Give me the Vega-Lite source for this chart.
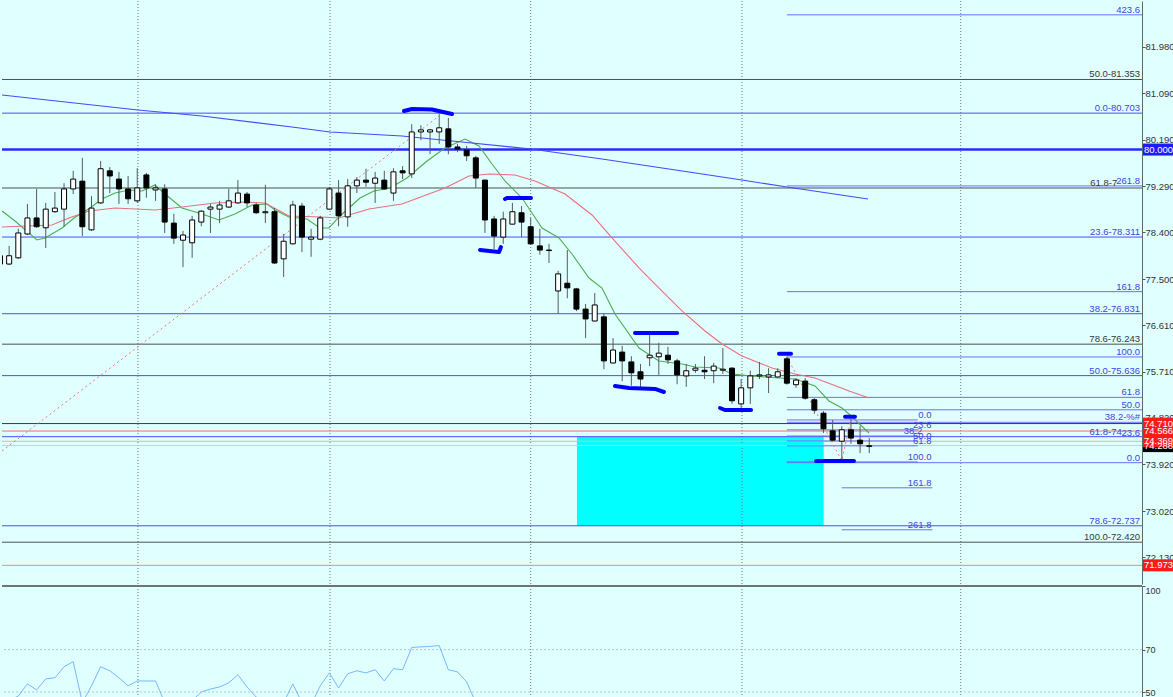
{
"$schema": "https://vega.github.io/schema/vega-lite/v6.json",
"padding": 0,
"background": "#e0ffff",
"spacing": 2,
"bounds": "flush",
"config": {"view": {"stroke": null}, "scale": {"continuousPadding": 0}, "axis": {"labelFont": "Liberation Sans", "labelColor": "#333333", "domainColor": "#606868", "tickColor": "#505858", "grid": false}},
"datasets": {
"candles": [
{"i":0,"o":77.95,"h":78.00,"l":77.77,"c":77.79},{"i":1,"o":77.79,"h":78.14,"l":77.77,"c":77.95},{"i":2,"o":77.91,"h":78.47,"l":77.89,"c":78.39},{"i":3,"o":78.37,"h":78.95,"l":78.35,"c":78.68},{"i":4,"o":78.68,"h":79.24,"l":78.49,"c":78.51},{"i":5,"o":78.49,"h":78.97,"l":78.10,"c":78.85},{"i":6,"o":78.80,"h":79.18,"l":78.78,"c":78.87},{"i":7,"o":78.85,"h":79.35,"l":78.51,"c":79.24},{"i":8,"o":79.24,"h":79.59,"l":79.14,"c":79.43},{"i":9,"o":79.39,"h":79.84,"l":78.33,"c":78.51},
{"i":10,"o":78.45,"h":79.10,"l":78.43,"c":78.87},{"i":11,"o":78.97,"h":79.78,"l":78.95,"c":79.63},{"i":12,"o":79.59,"h":79.66,"l":79.16,"c":79.49},{"i":13,"o":79.43,"h":79.57,"l":78.95,"c":79.24},{"i":14,"o":79.24,"h":79.49,"l":78.95,"c":79.05},{"i":15,"o":79.01,"h":79.64,"l":78.97,"c":79.26},{"i":16,"o":79.51,"h":79.55,"l":79.07,"c":79.26},{"i":17,"o":79.22,"h":79.33,"l":79.01,"c":79.26},{"i":18,"o":79.24,"h":79.33,"l":78.39,"c":78.60},{"i":19,"o":78.58,"h":78.76,"l":78.18,"c":78.29},
{"i":20,"o":78.25,"h":78.43,"l":77.73,"c":78.35},{"i":21,"o":78.20,"h":78.72,"l":77.91,"c":78.64},{"i":22,"o":78.60,"h":78.83,"l":78.52,"c":78.81},{"i":23,"o":78.85,"h":78.95,"l":78.39,"c":78.89},{"i":24,"o":78.85,"h":79.01,"l":78.58,"c":78.93},{"i":25,"o":78.89,"h":79.24,"l":78.87,"c":79.01},{"i":26,"o":78.97,"h":79.41,"l":78.95,"c":79.16},{"i":27,"o":79.14,"h":79.18,"l":78.89,"c":78.97},{"i":28,"o":78.93,"h":78.97,"l":78.76,"c":78.78},{"i":29,"o":78.78,"h":79.32,"l":78.58,"c":78.80},
{"i":30,"o":78.80,"h":78.87,"l":77.79,"c":77.81},{"i":31,"o":77.89,"h":78.37,"l":77.54,"c":78.23},{"i":32,"o":78.18,"h":79.01,"l":78.17,"c":78.93},{"i":33,"o":78.91,"h":78.97,"l":78.02,"c":78.31},{"i":34,"o":78.27,"h":78.47,"l":77.93,"c":78.31},{"i":35,"o":78.27,"h":78.72,"l":78.25,"c":78.68},{"i":36,"o":78.85,"h":79.28,"l":78.84,"c":79.24},{"i":37,"o":79.16,"h":79.41,"l":78.52,"c":78.72},{"i":38,"o":78.70,"h":79.43,"l":78.51,"c":79.30},{"i":39,"o":79.30,"h":79.47,"l":79.16,"c":79.41},
{"i":40,"o":79.41,"h":79.63,"l":79.28,"c":79.37},{"i":41,"o":79.35,"h":79.57,"l":78.97,"c":79.45},{"i":42,"o":79.41,"h":79.59,"l":79.22,"c":79.24},{"i":43,"o":79.16,"h":79.64,"l":79.01,"c":79.57},{"i":44,"o":79.59,"h":79.68,"l":79.43,"c":79.55},{"i":45,"o":79.53,"h":80.49,"l":79.45,"c":80.34},{"i":46,"o":80.34,"h":80.47,"l":80.18,"c":80.38},{"i":47,"o":80.34,"h":80.40,"l":79.91,"c":80.38},{"i":48,"o":80.34,"h":80.69,"l":80.11,"c":80.42},{"i":49,"o":80.40,"h":80.61,"l":79.91,"c":80.05},
{"i":50,"o":80.05,"h":80.11,"l":79.95,"c":80.01},{"i":51,"o":79.99,"h":80.07,"l":79.78,"c":79.88},{"i":52,"o":79.84,"h":79.88,"l":79.26,"c":79.45},{"i":53,"o":79.41,"h":79.42,"l":78.39,"c":78.64},{"i":54,"o":78.66,"h":78.72,"l":78.08,"c":78.33},{"i":55,"o":78.31,"h":78.80,"l":78.18,"c":78.66},{"i":56,"o":78.56,"h":78.97,"l":78.55,"c":78.80},{"i":57,"o":78.78,"h":78.91,"l":78.31,"c":78.60},{"i":58,"o":78.51,"h":78.68,"l":78.16,"c":78.18},{"i":59,"o":78.14,"h":78.47,"l":77.97,"c":78.06},
{"i":60,"o":78.06,"h":78.18,"l":77.81,"c":78.05},{"i":61,"o":77.27,"h":77.66,"l":76.83,"c":77.60},{"i":62,"o":77.42,"h":78.06,"l":77.13,"c":77.33},{"i":63,"o":77.31,"h":77.33,"l":76.88,"c":76.92},{"i":64,"o":76.92,"h":77.02,"l":76.36,"c":76.73},{"i":65,"o":76.69,"h":77.23,"l":76.68,"c":77.00},{"i":66,"o":76.77,"h":76.83,"l":75.76,"c":75.92},{"i":67,"o":75.88,"h":76.36,"l":75.87,"c":76.13},{"i":68,"o":76.09,"h":76.21,"l":75.53,"c":75.92},{"i":69,"o":75.90,"h":76.01,"l":75.44,"c":75.69},
{"i":70,"o":75.71,"h":75.86,"l":75.40,"c":75.57},{"i":71,"o":75.98,"h":76.44,"l":75.82,"c":76.03},{"i":72,"o":76.00,"h":76.27,"l":75.65,"c":76.07},{"i":73,"o":76.03,"h":76.19,"l":75.86,"c":75.94},{"i":74,"o":75.92,"h":75.96,"l":75.47,"c":75.65},{"i":75,"o":75.63,"h":75.86,"l":75.42,"c":75.73},{"i":76,"o":75.74,"h":75.86,"l":75.69,"c":75.78},{"i":77,"o":75.74,"h":76.01,"l":75.57,"c":75.71},{"i":78,"o":75.73,"h":75.88,"l":75.49,"c":75.82},{"i":79,"o":75.74,"h":76.17,"l":75.67,"c":75.76},
{"i":80,"o":75.78,"h":75.80,"l":75.09,"c":75.15},{"i":81,"o":75.09,"h":75.57,"l":75.01,"c":75.40},{"i":82,"o":75.40,"h":75.73,"l":75.09,"c":75.63},{"i":83,"o":75.63,"h":75.90,"l":75.57,"c":75.65},{"i":84,"o":75.61,"h":75.78,"l":75.30,"c":75.65},{"i":85,"o":75.61,"h":75.78,"l":75.60,"c":75.71},{"i":86,"o":75.96,"h":76.00,"l":75.46,"c":75.49},{"i":87,"o":75.46,"h":75.59,"l":75.40,"c":75.55},{"i":88,"o":75.53,"h":75.59,"l":75.17,"c":75.20},{"i":89,"o":75.17,"h":75.20,"l":74.90,"c":74.97},
{"i":90,"o":74.91,"h":74.95,"l":74.53,"c":74.61},{"i":91,"o":74.57,"h":74.78,"l":74.37,"c":74.39},{"i":92,"o":74.37,"h":74.66,"l":73.99,"c":74.59},{"i":93,"o":74.59,"h":74.80,"l":74.32,"c":74.43},{"i":94,"o":74.39,"h":74.66,"l":74.14,"c":74.32},{"i":95,"o":74.28,"h":74.43,"l":74.14,"c":74.27}
],
"ma": [
{"s":"g","i":0.22,"p":78.814},{"s":"g","i":1.64,"p":78.621},{"s":"g","i":4.04,"p":78.254},{"s":"g","i":4.92,"p":78.293},{"s":"g","i":6.78,"p":78.486},{"s":"g","i":8.09,"p":78.679},{"s":"g","i":9.84,"p":78.872},{"s":"g","i":11.15,"p":79.046},{"s":"g","i":12.57,"p":79.161},{"s":"g","i":14.1,"p":79.219},{"s":"g","i":15.52,"p":79.2},{"s":"g","i":16.94,"p":79.316},{"s":"g","i":18.03,"p":79.142},{"s":"g","i":19.89,"p":78.872},{"s":"g","i":22.08,"p":78.756},{"s":"g","i":23.93,"p":78.64},{"s":"g","i":25.68,"p":78.756},{"s":"g","i":27.54,"p":78.93},{"s":"g","i":29.18,"p":78.949},{"s":"g","i":30.05,"p":78.833},{"s":"g","i":31.58,"p":78.698},{"s":"g","i":33.55,"p":78.66},{"s":"g","i":34.97,"p":78.486},{"s":"g","i":35.96,"p":78.486},{"s":"g","i":37.16,"p":78.718},{"s":"g","i":39.34,"p":79.065},{"s":"g","i":40.87,"p":79.2},{"s":"g","i":42.62,"p":79.258},{"s":"g","i":44.48,"p":79.451},{"s":"g","i":46.67,"p":79.779},{"s":"g","i":48.63,"p":80.03},{"s":"g","i":50.82,"p":80.204},{"s":"g","i":52.35,"p":80.069},{"s":"g","i":53.77,"p":79.721},{"s":"g","i":55.19,"p":79.393},{"s":"g","i":57.05,"p":79.065},{"s":"g","i":59.24,"p":78.486},{"s":"g","i":61.09,"p":78.293},{"s":"g","i":62.51,"p":77.984},{"s":"g","i":64.37,"p":77.52},{"s":"g","i":65.79,"p":77.327},{"s":"g","i":67.21,"p":76.826},{"s":"g","i":69.84,"p":76.169},{"s":"g","i":72.02,"p":75.918},{"s":"g","i":74.54,"p":75.86},{"s":"g","i":75.96,"p":75.802},{"s":"g","i":78.58,"p":75.783},{"s":"g","i":80.0,"p":75.667},{"s":"g","i":82.19,"p":75.629},{"s":"g","i":85.14,"p":75.59},{"s":"g","i":86.89,"p":75.571},{"s":"g","i":89.07,"p":75.436},{"s":"g","i":90.6,"p":75.146},{"s":"g","i":92.02,"p":75.011},{"s":"g","i":92.79,"p":74.895},{"s":"g","i":94.97,"p":74.528},
{"s":"r","i":0.22,"p":78.505},{"s":"r","i":5.68,"p":78.544},{"s":"r","i":7.54,"p":78.679},{"s":"r","i":9.73,"p":78.814},{"s":"r","i":12.57,"p":78.872},{"s":"r","i":16.94,"p":78.833},{"s":"r","i":19.89,"p":78.891},{"s":"r","i":23.5,"p":78.968},{"s":"r","i":26.45,"p":78.988},{"s":"r","i":28.96,"p":78.968},{"s":"r","i":31.58,"p":78.718},{"s":"r","i":35.19,"p":78.698},{"s":"r","i":37.05,"p":78.679},{"s":"r","i":40.33,"p":78.853},{"s":"r","i":43.93,"p":78.949},{"s":"r","i":48.63,"p":79.258},{"s":"r","i":51.26,"p":79.49},{"s":"r","i":53.44,"p":79.528},{"s":"r","i":56.28,"p":79.509},{"s":"r","i":58.47,"p":79.393},{"s":"r","i":61.75,"p":79.142},{"s":"r","i":64.7,"p":78.737},{"s":"r","i":66.89,"p":78.293},{"s":"r","i":69.84,"p":77.714},{"s":"r","i":72.02,"p":77.327},{"s":"r","i":74.54,"p":76.884},{"s":"r","i":77.05,"p":76.497},{"s":"r","i":78.91,"p":76.246},{"s":"r","i":81.09,"p":76.015},{"s":"r","i":84.37,"p":75.783},{"s":"r","i":86.89,"p":75.667},{"s":"r","i":89.07,"p":75.59},{"s":"r","i":92.79,"p":75.339},{"s":"r","i":94.97,"p":75.204},
{"s":"b","i":0.22,"p":81.053},{"s":"b","i":15.08,"p":80.764},{"s":"b","i":22.08,"p":80.648},{"s":"b","i":31.91,"p":80.436},{"s":"b","i":36.07,"p":80.339},{"s":"b","i":43.93,"p":80.262},{"s":"b","i":49.4,"p":80.165},{"s":"b","i":58.03,"p":80.011},{"s":"b","i":65.79,"p":79.818},{"s":"b","i":73.11,"p":79.625},{"s":"b","i":81.09,"p":79.412},{"s":"b","i":86.01,"p":79.277},{"s":"b","i":94.86,"p":79.045}
],
"strokes": [
{"g":1,"i":44.15,"p":80.744},{"g":1,"i":45.03,"p":80.783},{"g":1,"i":47.21,"p":80.773},{"g":1,"i":49.4,"p":80.687},
{"g":2,"i":52.46,"p":78.061},{"g":2,"i":54.54,"p":78.022},{"g":2,"i":54.75,"p":78.119},
{"g":3,"i":55.19,"p":79.046},{"g":3,"i":55.41,"p":79.065},{"g":3,"i":58.03,"p":79.065},
{"g":4,"i":69.4,"p":76.459},{"g":4,"i":74.0,"p":76.459},
{"g":5,"i":67.21,"p":75.436},{"g":5,"i":68.74,"p":75.397},{"g":5,"i":71.58,"p":75.378},{"g":5,"i":72.57,"p":75.32},
{"g":6,"i":78.69,"p":75.011},{"g":6,"i":79.23,"p":74.972},{"g":6,"i":82.08,"p":74.972},
{"g":7,"i":85.14,"p":76.059},{"g":7,"i":86.45,"p":76.059},
{"g":8,"i":92.35,"p":74.843},{"g":8,"i":93.44,"p":74.843},
{"g":9,"i":89.18,"p":73.988},{"g":9,"i":93.33,"p":73.988}
],
"dots": [
{"g":"diag","i":0.22,"p":74.18},{"g":"diag","i":47.98,"p":80.648},
{"g":"zig","i":86,"p":76.0},{"g":"zig","i":92,"p":73.99},{"g":"zig","i":93,"p":74.8}
],
"levels": [
{"p":81.353,"x1":0,"x2":125,"k":"grey"},{"p":80.703,"x1":0,"x2":125,"k":"blue"},{"p":79.258,"x1":0,"x2":125,"k":"grey"},{"p":78.311,"x1":0,"x2":125,"k":"blue"},{"p":76.831,"x1":0,"x2":125,"k":"blue"},{"p":76.243,"x1":0,"x2":125,"k":"grey"},{"p":75.636,"x1":0,"x2":125,"k":"blue"},{"p":74.71,"x1":0,"x2":125,"k":"maroon"},{"p":74.566,"x1":0,"x2":125,"k":"red"},{"p":74.457,"x1":0,"x2":125,"k":"blue"},{"p":74.369,"x1":0,"x2":125,"k":"pink"},{"p":74.288,"x1":0,"x2":125,"k":"lgrey"},{"p":72.737,"x1":0,"x2":125,"k":"blue"},{"p":72.42,"x1":0,"x2":125,"k":"grey"},{"p":71.973,"x1":0,"x2":125,"k":"pinkr"},
{"p":82.601,"x1":86,"x2":125,"k":"fib"},{"p":79.298,"x1":86,"x2":125,"k":"fib"},{"p":77.257,"x1":86,"x2":125,"k":"fib"},{"p":75.996,"x1":86,"x2":125,"k":"fib"},{"p":75.216,"x1":86,"x2":125,"k":"fib"},{"p":74.976,"x1":86,"x2":125,"k":"fib"},{"p":74.735,"x1":86,"x2":125,"k":"fib"},{"p":73.955,"x1":86,"x2":125,"k":"fib"},
{"p":74.78,"x1":86,"x2":100.3,"k":"fib"},{"p":74.589,"x1":86,"x2":100.3,"k":"fib"},{"p":74.47,"x1":86,"x2":100.3,"k":"fib"},{"p":74.375,"x1":86,"x2":100.3,"k":"fib"},{"p":74.28,"x1":86,"x2":100.3,"k":"fib"},{"p":73.97,"x1":86,"x2":100.3,"k":"fib"},{"p":73.47,"x1":92,"x2":101.9,"k":"fib"},{"p":72.66,"x1":92,"x2":101.9,"k":"fib"}
],
"labels": [
{"p":81.353,"lx":124.6,"t":"50.0-81.353","k":"grey"},{"p":80.703,"lx":124.6,"t":"0.0-80.703","k":"blue"},{"p":79.258,"lx":122.1,"t":"61.8-7","k":"grey"},{"p":78.311,"lx":124.6,"t":"23.6-78.311","k":"blue"},{"p":76.831,"lx":124.6,"t":"38.2-76.831","k":"blue"},{"p":76.243,"lx":124.6,"t":"78.6-76.243","k":"grey"},{"p":75.636,"lx":124.6,"t":"50.0-75.636","k":"blue"},{"p":74.457,"lx":122.6,"t":"61.8-74","k":"blue"},{"p":72.737,"lx":124.6,"t":"78.6-72.737","k":"blue"},{"p":72.42,"lx":124.6,"t":"100.0-72.420","k":"grey"},
{"p":82.601,"lx":124.6,"t":"423.6","k":"blue"},{"p":79.298,"lx":124.6,"t":"261.8","k":"blue"},{"p":77.257,"lx":124.6,"t":"161.8","k":"blue"},{"p":75.996,"lx":124.6,"t":"100.0","k":"blue"},{"p":75.216,"lx":124.6,"t":"61.8","k":"blue"},{"p":74.976,"lx":124.6,"t":"50.0","k":"blue"},{"p":74.735,"lx":124.6,"t":"38.2-%#","k":"blue"},{"p":74.437,"lx":124.6,"t":"23.6","k":"blue"},{"p":73.955,"lx":124.6,"t":"0.0","k":"blue"},
{"p":74.78,"lx":101.8,"t":"0.0","k":"blue"},{"p":74.589,"lx":101.8,"t":"23.6","k":"blue"},{"p":74.47,"lx":100.8,"t":"38.2","k":"blue"},{"p":74.375,"lx":101.8,"t":"50.0","k":"blue"},{"p":74.28,"lx":101.8,"t":"61.8","k":"blue"},{"p":73.97,"lx":101.8,"t":"100.0","k":"blue"},{"p":73.47,"lx":101.8,"t":"161.8","k":"blue"},{"p":72.66,"lx":101.8,"t":"261.8","k":"blue"}
],
"tags": [
{"p":80.0,"t":"80.000","k":"blue"},{"p":74.275,"t":"74.288","k":"black"},{"p":74.566,"t":"74.566","k":"red"},{"p":74.71,"t":"74.710","k":"red"},{"p":74.369,"t":"74.369","k":"red"},{"p":71.973,"t":"71.973","k":"red"}
],
"grid": [{"i":15.08},{"i":36.07},{"i":58.0},{"i":81.09},{"i":105.0}],
"zone": [{"i1":63.06,"i2":90.02,"p1":72.737,"p2":74.457}],
"rsi": [
{"i":1,"v":46},{"i":2,"v":48.1},{"i":3,"v":53.8},{"i":4,"v":51},{"i":5,"v":56.2},{"i":6,"v":56.7},{"i":7,"v":61.9},{"i":8,"v":64.3},{"i":9,"v":45},{"i":10,"v":52.9},{"i":11,"v":61.9},{"i":12,"v":60},{"i":13,"v":56.7},{"i":14,"v":52.9},{"i":15,"v":55.2},{"i":16,"v":55.2},{"i":17,"v":55.2},{"i":18,"v":45},{"i":19,"v":42},{"i":20,"v":43},{"i":21,"v":46},{"i":22,"v":50},{"i":23,"v":51.4},{"i":24,"v":52.4},{"i":25,"v":54.3},{"i":26,"v":58.1},{"i":27,"v":52.4},{"i":28,"v":47.6},{"i":29,"v":46},{"i":30,"v":44},{"i":31,"v":45},{"i":32,"v":53.8},{"i":33,"v":45},{"i":34,"v":44},{"i":35,"v":52.9},{"i":36,"v":59},{"i":37,"v":51.9},{"i":38,"v":58.6},{"i":39,"v":60},{"i":40,"v":59},{"i":41,"v":60.5},{"i":42,"v":55.2},{"i":43,"v":61},{"i":44,"v":60.5},{"i":45,"v":71},{"i":46,"v":71.3},{"i":47,"v":71.5},{"i":48,"v":71.9},{"i":49,"v":60.5},{"i":50,"v":59.5},{"i":51,"v":54.8},{"i":52,"v":45},{"i":53,"v":40}
]
},
"vconcat": [
{
"width": 1140,
"height": 583,
"resolve": {"scale": {"color": "independent"}},
"layer": [
{"data": {"name": "zone"}, "mark": {"type": "rect", "color": "#00ffff", "clip": true},
 "encoding": {"x": {"field": "i1", "type": "quantitative", "scale": {"domain": [0.2186, 124.809], "nice": false, "zero": false, "padding": 0}, "axis": null}, "x2": {"field": "i2"},
  "y": {"field": "p1", "type": "quantitative", "scale": {"domain": [71.613, 82.868], "nice": false, "zero": false, "padding": 0}, "axis": {"orient": "right", "title": null, "values": [81.98, 81.09, 80.19, 79.29, 78.4, 77.5, 76.61, 75.71, 74.82, 73.92, 73.02, 72.13], "format": ".3f", "tickSize": 3, "labelPadding": 0, "labelFontSize": 9.5, "grid": false}}, "y2": {"field": "p2"}}},
{"data": {"name": "grid"}, "mark": {"type": "rule", "color": "#6a7878", "strokeDash": [1, 2], "strokeWidth": 1},
 "encoding": {"x": {"field": "i", "type": "quantitative", "axis": null}}},
{"data": {"name": "levels"}, "mark": {"type": "rule", "strokeWidth": 1, "clip": true},
 "encoding": {"x": {"field": "x1", "type": "quantitative", "axis": null}, "x2": {"field": "x2"},
  "y": {"field": "p", "type": "quantitative"},
  "color": {"field": "k", "type": "nominal", "legend": null, "scale": {"domain": ["grey", "blue", "fib", "maroon", "red", "pink", "lgrey", "pinkr"], "range": ["#4a5050", "#4c4cff", "#6e6eff", "#801040", "#ff6a6a", "#f0aaaa", "#c8d0d0", "#f48888"]}}}},
{"data": {"values": [{"p": 80.0}]}, "mark": {"type": "rule", "color": "#2a2aff", "strokeWidth": 2.5},
 "encoding": {"y": {"field": "p", "type": "quantitative"}}},
{"data": {"name": "dots"}, "mark": {"type": "line", "color": "#f07070", "strokeDash": [2, 3], "strokeWidth": 1, "clip": true},
 "encoding": {"x": {"field": "i", "type": "quantitative", "axis": null}, "y": {"field": "p", "type": "quantitative"}, "detail": {"field": "g"}}},
{"data": {"name": "ma"}, "mark": {"type": "line", "strokeWidth": 1.1, "clip": true},
 "encoding": {"x": {"field": "i", "type": "quantitative", "axis": null}, "y": {"field": "p", "type": "quantitative"},
  "color": {"field": "s", "type": "nominal", "legend": null, "scale": {"domain": ["g", "r", "b"], "range": ["#4caf50", "#e8707c", "#4848ff"]}}}},
{"data": {"name": "candles"}, "mark": {"type": "rule", "color": "#555a5a", "clip": true},
 "encoding": {"x": {"field": "i", "type": "quantitative", "axis": null}, "y": {"field": "l", "type": "quantitative"}, "y2": {"field": "h"}}},
{"data": {"name": "candles"}, "mark": {"type": "bar", "width": 5, "stroke": "#000000", "strokeWidth": 1, "clip": true},
 "encoding": {"x": {"field": "i", "type": "quantitative", "axis": null}, "y": {"field": "o", "type": "quantitative"}, "y2": {"field": "c"},
  "fill": {"condition": {"test": "datum.c >= datum.o", "value": "#ffffff"}, "value": "#000000"}}},
{"data": {"name": "strokes"}, "mark": {"type": "line", "color": "#0000ff", "strokeWidth": 4, "strokeCap": "round", "strokeJoin": "round", "clip": true},
 "encoding": {"x": {"field": "i", "type": "quantitative", "axis": null}, "y": {"field": "p", "type": "quantitative"}, "detail": {"field": "g"}}},
{"data": {"name": "labels"}, "mark": {"type": "text", "align": "right", "baseline": "alphabetic", "dy": -2, "font": "Liberation Sans", "fontSize": 9.5},
 "encoding": {"x": {"field": "lx", "type": "quantitative", "axis": null}, "y": {"field": "p", "type": "quantitative"}, "text": {"field": "t"},
  "color": {"field": "k", "type": "nominal", "legend": null, "scale": {"domain": ["grey", "blue"], "range": ["#333838", "#4444dd"]}}}},
{"data": {"name": "tags"}, "mark": {"type": "bar", "orient": "horizontal", "size": 12},
 "encoding": {"x": {"datum": 124.92, "type": "quantitative", "axis": null}, "x2": {"datum": 128.3}, "y": {"field": "p", "type": "quantitative"},
  "color": {"field": "k", "type": "nominal", "legend": null, "scale": {"domain": ["blue", "red", "black"], "range": ["#1c1cff", "#ff1a1a", "#000000"]}}}},
{"data": {"name": "tags"}, "mark": {"type": "text", "align": "left", "baseline": "middle", "dx": 1, "color": "#ffffff", "font": "Liberation Sans", "fontSize": 9.5},
 "encoding": {"x": {"datum": 124.92, "type": "quantitative", "axis": null}, "y": {"field": "p", "type": "quantitative"}, "text": {"field": "t"}}}
]
},
{
"width": 1140,
"height": 112,
"layer": [
{"data": {"values": [{"v": 70}, {"v": 50}]}, "mark": {"type": "rule", "color": "#b8c8c8", "strokeDash": [2, 2], "strokeWidth": 1},
 "encoding": {"y": {"field": "v", "type": "quantitative", "scale": {"domain": [47.17, 100], "nice": false, "zero": false, "padding": 0}, "axis": {"orient": "right", "title": null, "values": [100, 70, 50], "tickSize": 3, "labelPadding": 0, "labelFontSize": 9, "labelFlush": true, "grid": false}}}},
{"data": {"name": "grid"}, "mark": {"type": "rule", "color": "#6a7878", "strokeDash": [1, 2], "strokeWidth": 1},
 "encoding": {"x": {"field": "i", "type": "quantitative", "scale": {"domain": [0.2186, 124.809], "nice": false, "zero": false, "padding": 0}, "axis": null}}},
{"data": {"name": "rsi"}, "mark": {"type": "line", "color": "#78b8ff", "strokeWidth": 1, "clip": true},
 "encoding": {"x": {"field": "i", "type": "quantitative", "axis": null}, "y": {"field": "v", "type": "quantitative"}}},
{"data": {"values": [{"v": 100}]}, "mark": {"type": "rule", "color": "#6a7676", "strokeWidth": 2},
 "encoding": {"y": {"field": "v", "type": "quantitative"}}}
]
}
]
}
